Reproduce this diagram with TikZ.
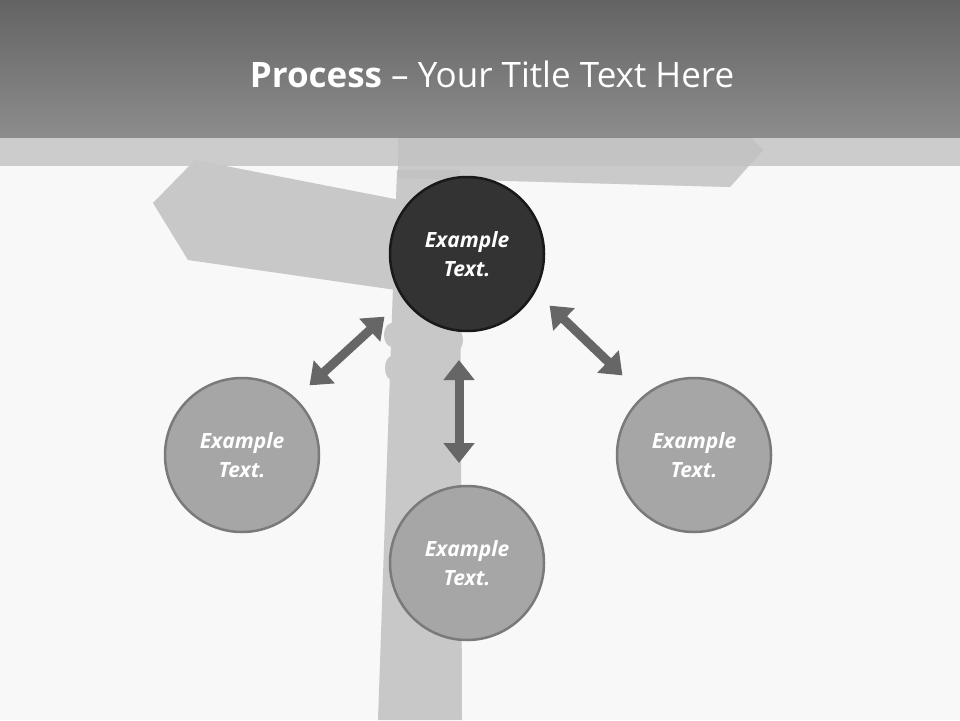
\documentclass[tikz,border=0pt]{standalone}
\usepackage{fontspec}
\setmainfont{Open Sans}
\usetikzlibrary{arrows.meta}
\definecolor{bg}{HTML}{F8F8F8}
\definecolor{sign}{HTML}{C8C8C8}
\begin{document}
\begin{tikzpicture}[x=1pt,y=-1pt,
  circ/.style={circle,minimum size=154pt,inner sep=0pt,line width=2.5pt,draw=black!52,fill=black!35,text=white,font=\bfseries\itshape\fontsize{21}{29}\selectfont,align=center},
  dbl/.style={line width=9pt,draw=black!60,{Triangle[width=30pt,length=20pt]}-{Triangle[width=30pt,length=20pt]},shorten <=-2pt,shorten >=-2pt}]
\useasboundingbox (0,0) rectangle (960,720);
\fill[bg] (0,0) rectangle (960,720);
\fill[black!20] (0,137) rectangle (960,166);
% signpost
\fill[sign] (397,170) -- (460,170) -- (462,720) -- (378,720) -- cycle;
\fill[sign] (392,335) ellipse (8 and 12);
\fill[sign] (455,340) ellipse (8 and 12);
\fill[sign] (392,368) ellipse (7 and 12);
\fill[sign] (195,160) -- (400,200) -- (396,290) -- (188,260) -- (153,203) -- cycle;
\fill[black!30,opacity=0.6] (398,137) -- (750,137) -- (763,150) -- (730,187) -- (398,178) -- cycle;
\fill[sign,opacity=0.6] (398,137) -- (750,137) -- (763,150) -- (730,187) -- (398,178) -- cycle;
% header
\shade[top color=black!61,bottom color=black!45] (0,0) rectangle (960,137);
\node[text=white,font=\fontsize{35}{40}\selectfont] (title) at (492,74) {\textbf{Process} – Your Title Text Here};
% circles
\node[circ,fill=black!80,draw=black!90] (c0) at (467,254) {Example\\Text.};
\node[circ] (c1) at (242,455) {Example\\Text.};
\node[circ] (c2) at (467,563) {Example\\Text.};
\node[circ] (c3) at (694,455) {Example\\Text.};
\coordinate (a1) at (383,318); \coordinate (b1) at (311,384);
\coordinate (a2) at (459,362); \coordinate (b2) at (459,461);
\coordinate (a3) at (551,307); \coordinate (b3) at (621,374);
\draw[dbl] (a1) -- (b1);
\draw[dbl] (a2) -- (b2);
\draw[dbl] (a3) -- (b3);
\end{tikzpicture}
\end{document}
